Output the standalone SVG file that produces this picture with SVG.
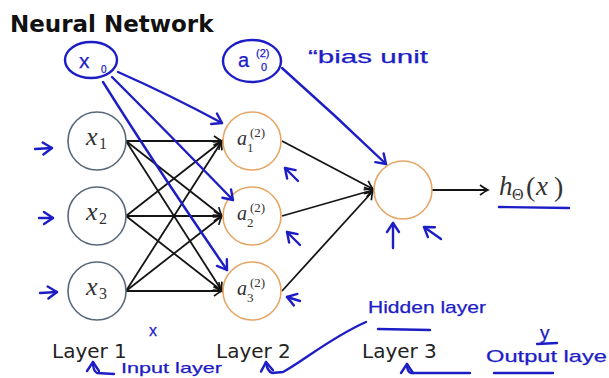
<svg xmlns="http://www.w3.org/2000/svg" width="609" height="378" viewBox="0 0 609 378">
<defs>
<style>
.bg{fill:#ffffff}
.n1{fill:#ffffff;stroke:#56687a;stroke-width:1.6}
.n2{fill:#ffffff;stroke:#e5a565;stroke-width:1.6}
.edge{fill:none;stroke:#141414;stroke-width:1.8}
.pen{fill:none;stroke:#1d1dc6;stroke-width:2.4;stroke-linecap:round;stroke-linejoin:round}
.math{font-family:"Liberation Serif",serif;fill:#333333}
.mi{font-style:italic}
.lay{font-family:"DejaVu Sans",sans-serif;font-size:20px;fill:#222222}
.hand{font-family:"Liberation Sans",sans-serif;fill:#1d1dc6;stroke:#1d1dc6;stroke-width:0.25}
.title{font-family:"DejaVu Sans",sans-serif;font-weight:bold;font-size:23px;fill:#111111}
</style>
<marker id="ah" viewBox="-10 -7 12 14" refX="0" refY="0" markerWidth="12" markerHeight="14" markerUnits="userSpaceOnUse" orient="auto">
<path d="M-8,-5 Q-3,-1.2 0,0 Q-3,1.2 -8,5" fill="none" stroke="#141414" stroke-width="1.7"/>
</marker>
<marker id="bh" viewBox="-12 -8 14 16" refX="0" refY="0" markerWidth="14" markerHeight="16" markerUnits="userSpaceOnUse" orient="auto">
<path d="M-9,-6 L0,0 L-9,6" fill="none" stroke="#1d1dc6" stroke-width="2.4" stroke-linecap="round" stroke-linejoin="round"/>
</marker>
</defs>
<rect class="bg" x="0" y="0" width="609" height="378"/>
<text class="title" x="10" y="32">Neural Network</text>

<g id="connectors">
<path class="edge" d="M126,141 L222,141" marker-end="url(#ah)"/>
<path class="edge" d="M126,141 L222,216" marker-end="url(#ah)"/>
<path class="edge" d="M126,141 L222,291" marker-end="url(#ah)"/>
<path class="edge" d="M126,216 L222,141" marker-end="url(#ah)"/>
<path class="edge" d="M126,216 L222,216" marker-end="url(#ah)"/>
<path class="edge" d="M126,216 L222,291" marker-end="url(#ah)"/>
<path class="edge" d="M126,291 L222,141" marker-end="url(#ah)"/>
<path class="edge" d="M126,291 L222,216" marker-end="url(#ah)"/>
<path class="edge" d="M126,291 L222,291" marker-end="url(#ah)"/>
<path class="edge" d="M282,141 L373,189" marker-end="url(#ah)"/>
<path class="edge" d="M282,216 L373,190" marker-end="url(#ah)"/>
<path class="edge" d="M282,291 L373,191" marker-end="url(#ah)"/>
<path class="edge" d="M432,190 L488,190" marker-end="url(#ah)"/>
</g>

<g id="node-x1">
<circle class="n1" cx="97" cy="141" r="29"/>
<text class="math mi" x="86" y="145" font-size="26">x</text>
<text class="math" x="99" y="149" font-size="16">1</text>
</g>
<g id="node-x2">
<circle class="n1" cx="97" cy="216" r="29"/>
<text class="math mi" x="86" y="220" font-size="26">x</text>
<text class="math" x="99" y="224" font-size="16">2</text>
</g>
<g id="node-x3">
<circle class="n1" cx="97" cy="291" r="29"/>
<text class="math mi" x="86" y="295" font-size="26">x</text>
<text class="math" x="99" y="299" font-size="16">3</text>
</g>

<g id="node-a1">
<circle class="n2" cx="252" cy="141" r="29"/>
<text class="math mi" x="237" y="145" font-size="20">a</text>
<text class="math" x="250" y="137" font-size="13">(2)</text>
<text class="math" x="247" y="152" font-size="13">1</text>
</g>
<g id="node-a2">
<circle class="n2" cx="252" cy="216" r="29"/>
<text class="math mi" x="237" y="220" font-size="20">a</text>
<text class="math" x="250" y="212" font-size="13">(2)</text>
<text class="math" x="247" y="227" font-size="13">2</text>
</g>
<g id="node-a3">
<circle class="n2" cx="252" cy="291" r="29"/>
<text class="math mi" x="237" y="295" font-size="20">a</text>
<text class="math" x="250" y="287" font-size="13">(2)</text>
<text class="math" x="247" y="302" font-size="13">3</text>
</g>

<g id="node-out">
<circle class="n2" cx="403" cy="190" r="29"/>
</g>

<g id="output-label">
<text class="math mi" x="499" y="195" font-size="27">h</text>
<text class="math" x="512" y="200" font-size="16">Θ</text>
<text class="math" x="526" y="196" font-size="28">(</text>
<text class="math mi" x="536" y="195" font-size="27">x</text>
<text class="math" x="554" y="196" font-size="28">)</text>
</g>

<g id="layer-labels">
<text class="lay" x="52" y="358">Layer 1</text>
<text class="lay" x="216" y="358">Layer 2</text>
<text class="lay" x="362" y="358">Layer 3</text>
</g>

<g id="annotations">
<g id="bias-x0">
<ellipse class="pen" cx="91" cy="60" rx="26" ry="18"/>
<text class="hand" x="79" y="68" font-size="21">x</text>
<text class="hand" x="101" y="73" font-size="10">0</text>
</g>
<g id="bias-a0">
<ellipse class="pen" cx="252" cy="61" rx="29" ry="21"/>
<text class="hand" x="238" y="67" font-size="20">a</text>
<text class="hand" x="256" y="57" font-size="11">(2)</text>
<text class="hand" x="261" y="71" font-size="11">0</text>
</g>
<text class="hand" x="308" y="63" font-size="19" textLength="120" lengthAdjust="spacingAndGlyphs">“bias unit</text>
<path class="pen" d="M118,72 Q170,95 222,123" marker-end="url(#bh)"/>
<path class="pen" d="M112,77 Q165,130 233,200" marker-end="url(#bh)"/>
<path class="pen" d="M103,82 Q155,165 227,270" marker-end="url(#bh)"/>
<path class="pen" d="M282,68 Q335,115 386,164" marker-end="url(#bh)"/>
<path class="pen" d="M35,149 L52,148" marker-end="url(#bh)"/>
<path class="pen" d="M39,218 L53,218" marker-end="url(#bh)"/>
<path class="pen" d="M40,293 L57,292" marker-end="url(#bh)"/>
<path class="pen" d="M298,181 L285,168" marker-end="url(#bh)"/>
<path class="pen" d="M300,245 L287,232" marker-end="url(#bh)"/>
<path class="pen" d="M300,301 L287,297" marker-end="url(#bh)"/>
<path class="pen" d="M393,248 L393,223" marker-end="url(#bh)"/>
<path class="pen" d="M441,239 L424,227" marker-end="url(#bh)"/>
<path class="pen" d="M499,207 L569,208"/>
<text class="hand" x="149" y="336" font-size="16">x</text>
<path class="pen" d="M114,374 L97,373 Q93,371 93,362" marker-end="url(#bh)"/>
<text class="hand" x="121" y="373" font-size="15" textLength="101" lengthAdjust="spacingAndGlyphs">Input layer</text>
<text class="hand" x="368" y="313" font-size="17" textLength="118" lengthAdjust="spacingAndGlyphs">Hidden layer</text>
<path class="pen" d="M378,329 L430,330"/>
<path class="pen" d="M366,322 C330,338 302,362 283,372 L272,373 Q267,371 266,362" marker-end="url(#bh)"/>
<path class="pen" d="M470,373 L411,373 Q407,372 407,364" marker-end="url(#bh)"/>
<text class="hand" x="540" y="339" font-size="19">y</text>
<path class="pen" d="M537,344 L557,343"/>
<text class="hand" x="486" y="362" font-size="17" textLength="121" lengthAdjust="spacingAndGlyphs">Output laye</text>
<path class="pen" d="M494,373 L553,373"/>
</g>
</svg>
